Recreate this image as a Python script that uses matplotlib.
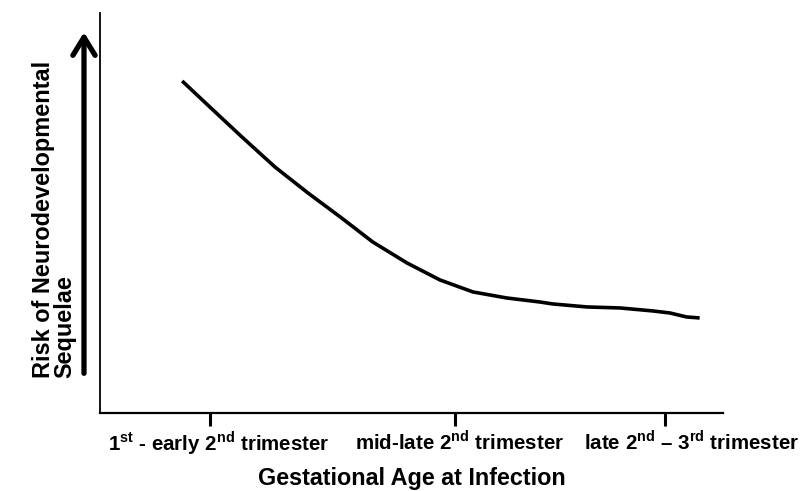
import matplotlib
matplotlib.use('Agg')
import matplotlib.pyplot as plt
import matplotlib.transforms as mtransforms

plt.rcParams['font.family'] = ['Liberation Sans', 'DejaVu Sans']
plt.rcParams['font.weight'] = 'bold'
plt.rcParams['mathtext.fontset'] = 'custom'
plt.rcParams['mathtext.rm'] = 'Liberation Sans'
plt.rcParams['mathtext.bf'] = 'Liberation Sans:bold'

# Curva de riesgo (x e y en escala 0-100)
gest_age = [13.2, 17.3, 22.8, 28.1, 33.4, 38.8, 43.8, 49.3, 54.6, 59.9,
            65.3, 70.6, 72.7, 78.2, 83.5, 88.8, 91.5, 94.2, 96.3]
risk = [83.0, 77.0, 69.0, 61.5, 55.0, 48.75, 42.75, 37.5, 33.25, 30.25,
        28.75, 27.75, 27.25, 26.5, 26.25, 25.5, 25.0, 24.0, 23.75]

tick_pos = [17.7, 57.0, 90.7]
tick_labels = [r'1$^{\mathbf{st}}$ - early 2$^{\mathbf{nd}}$ trimester',
               r'mid-late 2$^{\mathbf{nd}}$ trimester',
               r'late 2$^{\mathbf{nd}}$ – 3$^{\mathbf{rd}}$ trimester']
label_shift_px = [9, 5, 27]

fig = plt.figure(figsize=(8.03, 4.91), dpi=100)
ax = fig.add_axes([0.1245, 0.159, 0.7755, 0.8145])

ax.plot(gest_age, risk, color='black', lw=2.6, solid_capstyle='butt',
        solid_joinstyle='round')

ax.set_xlim(0, 100)
ax.set_ylim(0, 100)
ax.spines['top'].set_visible(False)
ax.spines['right'].set_visible(False)
ax.spines['left'].set_linewidth(1.3)
ax.spines['bottom'].set_linewidth(1.6)
ax.set_yticks([])
ax.set_xticks(tick_pos)
ax.set_xticklabels(tick_labels, fontsize=14.8, fontweight='bold')
ax.tick_params(axis='x', direction='out', length=9, width=2.2, pad=3)

# desplazar un poco las etiquetas como en el original
for lab, dx in zip(ax.get_xticklabels(), label_shift_px):
    off = mtransforms.ScaledTranslation(dx / 100, 0, fig.dpi_scale_trans)
    lab.set_transform(lab.get_transform() + off)

# Flecha vertical
ax.annotate('', xy=(0.1046, 0.94), xytext=(0.1046, 0.234),
            xycoords='figure fraction', textcoords='figure fraction',
            arrowprops=dict(arrowstyle='->,head_length=0.65,head_width=0.4',
                            lw=3.8, color='black', mutation_scale=20))

fig.text(0.0675, 0.23, 'Risk of Neurodevelopmental\nSequelae', rotation=90,
         ha='center', va='bottom', multialignment='left', linespacing=0.9,
         fontsize=16.9, fontweight='bold')

fig.text(412 / 803, 1 - 479 / 491, 'Gestational Age at Infection',
         ha='center', va='center', fontsize=16.8, fontweight='bold')

fig.savefig('out.png', dpi=100)
